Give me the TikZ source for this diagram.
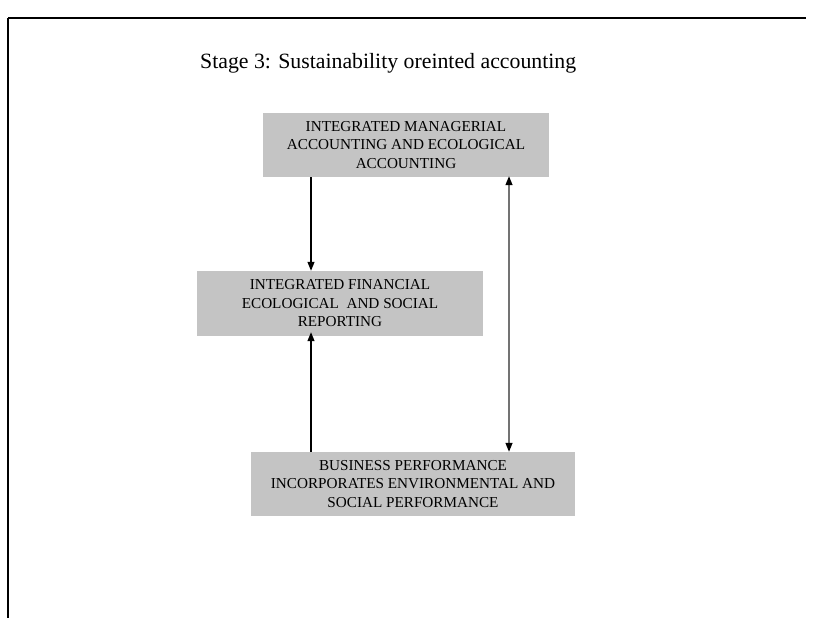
\documentclass[tikz,border=0pt]{standalone}
\usepackage{fontspec}
\setmainfont{Liberation Serif}
\usetikzlibrary{arrows.meta}
\begin{document}
\begin{tikzpicture}[x=1pt,y=-1pt,
  stagebox/.style={draw=none, fill=black!23, align=center, inner sep=0pt,
    font=\fontsize{15.2}{18.5}\selectfont},
  flow/.style={line width=1.2pt, -{Triangle[length=9pt,width=7pt]}},
  twoway/.style={line width=1.3pt, draw=black!55, {Triangle[length=9pt,width=7pt,color=black]}-{Triangle[length=9pt,width=7pt,color=black]}}]
  \useasboundingbox (0,0) rectangle (813,626);
  % page frame
  \draw[line width=2pt] (8,18) coordinate (tl) -- (806,18) coordinate (tr);
  \draw[line width=2pt] (tl) -- (8,618) coordinate (bl);
  % title
  \node[anchor=base west, inner sep=0pt, font=\fontsize{21.8}{26}\selectfont]
    (title) at (200,68) {Stage 3: Sustainability oreinted accounting};
  % stages
  \node[stagebox, minimum width=286, minimum height=64] (acc) at (406,145)
    {INTEGRATED MANAGERIAL\\ACCOUNTING AND ECOLOGICAL\\ACCOUNTING};
  \node[stagebox, minimum width=286, minimum height=65] (rep) at (340,303.5)
    {INTEGRATED FINANCIAL\\ECOLOGICAL\ \ AND SOCIAL\\REPORTING};
  \node[stagebox, minimum width=324, minimum height=64] (perf) at (413,484)
    {BUSINESS PERFORMANCE\\INCORPORATES ENVIRONMENTAL AND\\SOCIAL PERFORMANCE};
  % connectors
  \draw[flow] (acc.south -| 311,0) -- (rep.north -| 311,0);
  \draw[flow] (perf.north -| 311,0) -- ([yshift=4pt]rep.south -| 311,0);
  \draw[twoway] ([yshift=1pt]acc.south -| 509,0) -- (perf.north -| 509,0);
\end{tikzpicture}
\end{document}
